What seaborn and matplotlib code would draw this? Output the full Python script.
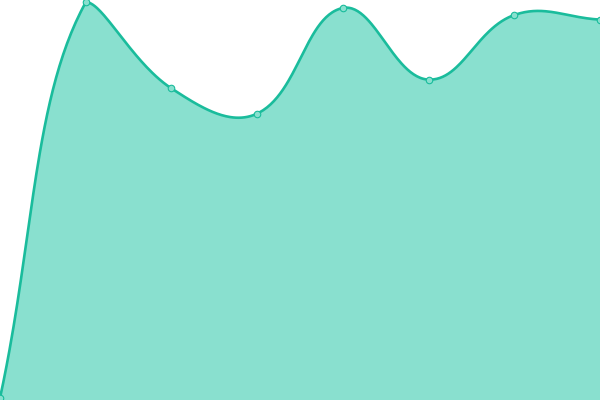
import numpy as np
import pandas as pd
import matplotlib
matplotlib.use("Agg")
import matplotlib.pyplot as plt
import seaborn as sns

# data (y scale 0..100)
points = [0, 1, 2, 3, 4, 5, 6, 7]
values = [0.5, 99.4, 77.9, 71.6, 98.0, 80.1, 96.25, 95.1]

line_color = "#1abc9c"
fill_color = "#89e0cf"
tension = 0.4

sns.set_style("white")
fig = plt.figure(figsize=(6, 4), dpi=100)
ax = fig.add_axes([0, 0, 1, 1])
ax.set_xlim(0, 7)
ax.set_ylim(0, 100)
ax.axis("off")


def spline_curve(xs, ys, ax, t=0.4, n=60):
    # chart.js style bezier spline, worked out in display coords
    pts = ax.transData.transform(np.column_stack([xs, ys]))
    bb = ax.bbox
    k = len(pts)
    cps = []
    for i in range(k):
        cur = pts[i]
        prev = pts[i - 1] if i > 0 else cur
        nxt = pts[i + 1] if i < k - 1 else cur
        d01 = np.hypot(*(cur - prev))
        d12 = np.hypot(*(nxt - cur))
        s01 = d01 / (d01 + d12) if d01 + d12 else 0
        s12 = d12 / (d01 + d12) if d01 + d12 else 0
        before = cur - t * s01 * (nxt - prev)
        after = cur + t * s12 * (nxt - prev)
        before = np.clip(before, [bb.x0, bb.y0], [bb.x1, bb.y1])
        after = np.clip(after, [bb.x0, bb.y0], [bb.x1, bb.y1])
        cps.append((before, after))
    out = [pts[0]]
    tt = np.linspace(0, 1, n)[1:, None]
    for i in range(k - 1):
        p0, p3 = pts[i], pts[i + 1]
        c1, c2 = cps[i][1], cps[i + 1][0]
        seg = ((1 - tt) ** 3 * p0 + 3 * (1 - tt) ** 2 * tt * c1
               + 3 * (1 - tt) * tt ** 2 * c2 + tt ** 3 * p3)
        out.extend(seg)
    return ax.transData.inverted().transform(np.array(out))


curve = spline_curve(points, values, ax, tension)
df = pd.DataFrame({"x": curve[:, 0], "y": curve[:, 1]})

poly_x = np.concatenate([df["x"], [df["x"].iloc[-1], df["x"].iloc[0]]])
poly_y = np.concatenate([df["y"], [0, 0]])
ax.fill(poly_x, poly_y, color=fill_color, lw=0, zorder=1)

sns.lineplot(data=df, x="x", y="y", sort=False, color=line_color,
             linewidth=1.9, ax=ax, zorder=2)
sns.scatterplot(x=points, y=values, s=22, color=fill_color,
                edgecolor=line_color, linewidth=0.8, ax=ax, zorder=3,
                clip_on=False)

ax.set_xlim(0, 7)
ax.set_ylim(0, 100)
ax.axis("off")

fig.savefig("out.png", dpi=100)
